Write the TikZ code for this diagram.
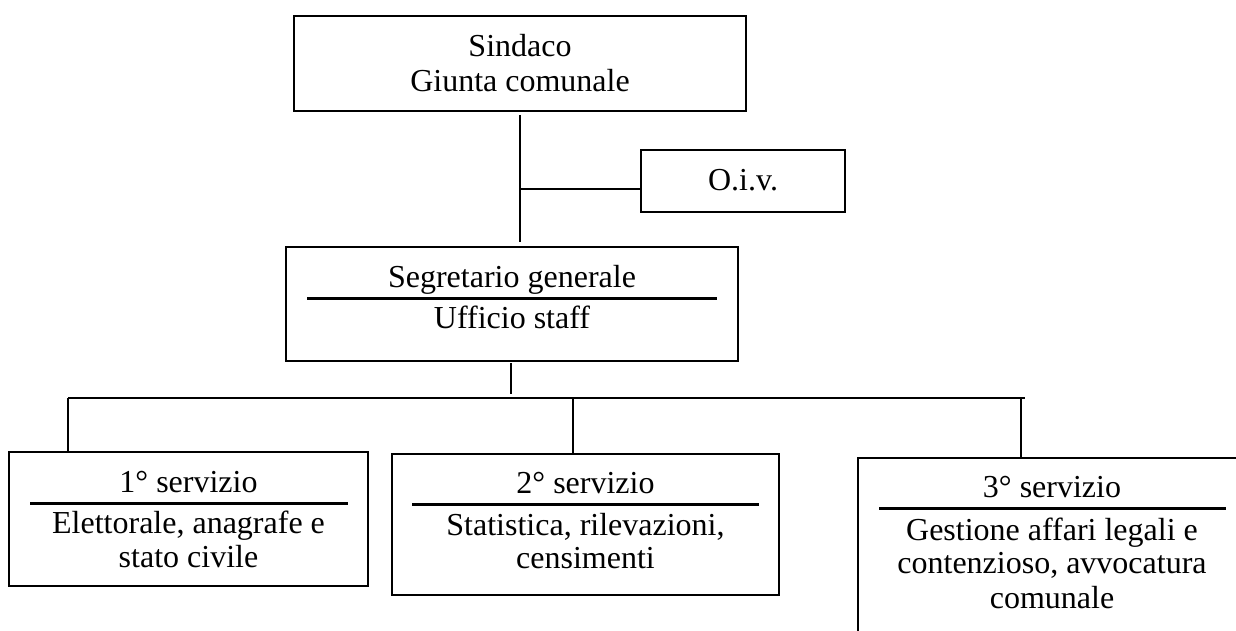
\documentclass[tikz,border=0pt]{standalone}
\usepackage{fontspec}
\setmainfont{Liberation Serif}
\begin{document}
\begin{tikzpicture}[x=0.5pt,y=-0.5pt,
  box/.style={draw,line width=1pt,inner sep=0pt,outer sep=0pt},
  lbl/.style={anchor=base,inner sep=0pt,outer sep=0pt,font=\fontsize{16}{18}\selectfont},
  conn/.style={line width=1pt},
  divider/.style={line width=1.5pt}]
\clip (0,0) rectangle (1236,631);
\fill[white] (0,0) rectangle (1236,631);

% boxes
\node[box,minimum width=226pt,minimum height=47.5pt] (top) at (520,63.5) {};
\node[box,minimum width=102pt,minimum height=31pt] (oiv) at (743,181) {};
\node[box,minimum width=226pt,minimum height=57pt] (seg) at (512,304) {};
\node[box,minimum width=179.5pt,minimum height=67pt] (b1) at (188.5,519) {};
\node[box,minimum width=193.5pt,minimum height=70.5pt] (b2) at (585.5,524.5) {};
\node[box,minimum width=194pt,minimum height=142pt] (b3) at (1052,600) {};

% texts
\node[lbl] (t1) at (520,57) {Sindaco};
\node[lbl] (t2) at (520,92) {Giunta comunale};
\node[lbl] (t3) at (743,190) {O.i.v.};
\node[lbl] (t4) at (512,287) {Segretario generale};
\node[lbl] (t5) at (512,328) {Ufficio staff};
\node[lbl] (t6) at (188.5,492) {1° servizio};
\node[lbl] (t7) at (188.5,533) {Elettorale, anagrafe e};
\node[lbl] (t8) at (188.5,567) {stato civile};
\node[lbl] (t9) at (585.5,493) {2° servizio};
\node[lbl] (t10) at (585.5,535) {Statistica, rilevazioni,};
\node[lbl] (t11) at (585.5,568) {censimenti};
\node[lbl] (t12) at (1052,497) {3° servizio};
\node[lbl] (t13) at (1052,540) {Gestione affari legali e};
\node[lbl] (t14) at (1052,573) {contenzioso, avvocatura};
\node[lbl] (t15) at (1052,608) {comunale};

% dividers
\draw[divider] (307,298) -- (717,298);
\draw[divider] (30,503) -- (348,503);
\draw[divider] (412,504) -- (759,504);
\draw[divider] (879,508) -- (1226,508);

% connectors
\coordinate (ja) at (520,189);
\draw[conn,shorten <=2pt,shorten >=2.5pt] (top.south -| ja) -- (seg.north -| ja);
\draw[conn] (ja) -- (ja -| oiv.west);

\coordinate (hb) at (511,398);
\draw[conn,shorten <=1pt,shorten >=2pt] (seg.south -| hb) -- (hb);
\coordinate (busL) at (68,398);
\coordinate (busR) at (1025,398);
\draw[conn] (busL) -- (busR);
\coordinate (d2) at (573,398);
\coordinate (d3) at (1021,398);
\draw[conn] (busL) -- (busL |- b1.north);
\draw[conn] (d2) -- (d2 |- b2.north);
\draw[conn] (d3) -- (d3 |- b3.north);
\end{tikzpicture}
\end{document}
